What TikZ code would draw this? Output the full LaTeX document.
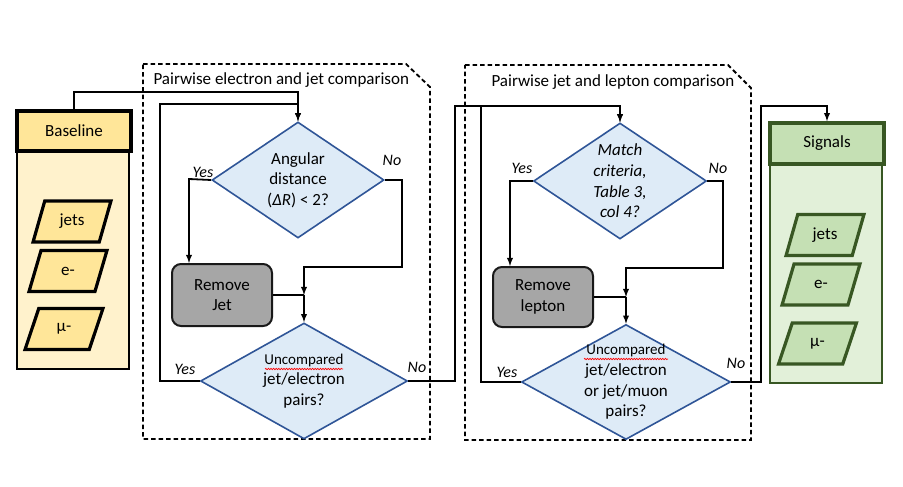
\documentclass[tikz,border=0pt]{standalone}
\usepackage{fontspec}
\setmainfont{Carlito}
\usepackage{tikz}
\usetikzlibrary{arrows,shapes.geometric,decorations.pathmorphing}

\definecolor{baseline_dark}{HTML}{FFE699}
\definecolor{baseline_light}{HTML}{FFF2CC}
\definecolor{signal_dark}{HTML}{C5E0B4}
\definecolor{signal_light}{HTML}{E2F0D9}
\definecolor{signal_line}{HTML}{385723}
\definecolor{decision_fill}{HTML}{DEEBF7}
\definecolor{decision_line}{HTML}{2F5597}
\definecolor{remove_fill}{HTML}{A6A6A6}

\begin{document}
\begin{tikzpicture}[x=1pt,y=-1pt,
		font=\fontsize{17}{20.7}\selectfont,
		flowarrow/.style={line width=1.8pt,-latex},
		flowline/.style={line width=1.8pt},
		decision/.style={diamond,draw=decision_line,line width=1.6pt,fill=decision_fill,inner sep=-12pt,align=center},
		removebox/.style={rectangle,rounded corners=9pt,draw=black!90,line width=2pt,fill=remove_fill,text=black,align=center,minimum width=100pt},
		datapar/.style={trapezium,trapezium left angle=70,trapezium right angle=110,trapezium stretches=true,line width=3.2pt,minimum height=41pt,minimum width=78pt,inner sep=0pt},
		headbox/.style={rectangle,line width=3.6pt,minimum width=114pt,minimum height=40pt},
		bodybox/.style={rectangle,line width=2.4pt,minimum width=112pt,minimum height=218pt},
		answer/.style={font=\fontsize{16}{18}\selectfont\itshape},
		groupbox/.style={line width=1.8pt,dash pattern=on 4.5pt off 3pt},
		spellwave/.style={red,line width=0.7pt,decorate,decoration={snake,amplitude=0.7pt,segment length=2.6pt}}]
		\useasboundingbox (0,0) rectangle (903,487);
%		\draw[help lines,step=50] (0,0) grid (903,487);
		\draw[groupbox] (143,64) -- (406,64) -- (430,87) -- (430,439) -- (143,439) -- cycle;
		\draw[groupbox] (465,65) -- (728,65) -- (751,88) -- (751,440) -- (465,440) -- cycle;
		\path (150,80) node(title_ej) [anchor=west] {Pairwise electron and jet comparison};
		\path (488,82) node(title_jl) [anchor=west] {Pairwise jet and lepton comparison};

		\path (73,260) node(base_body) [bodybox,draw,fill=baseline_light] {};
		\path (74,131) node(base) [headbox,draw,fill=baseline_dark] {Baseline};
		\path (72,221.5) node(base_jets) [datapar,draw,fill=baseline_dark] {jets};
		\path (68,271) node(base_e) [datapar,draw,fill=baseline_dark] {e-};
		\path (64,329) node(base_mu) [datapar,draw,fill=baseline_dark] {µ-};

		\path (826,273.5) node(sig_body) [bodybox,draw=signal_line,fill=signal_light,minimum height=219pt] {};
		\path (827,143.5) node(sig) [headbox,draw=signal_line,fill=signal_dark,minimum height=41pt] {Signals};
		\path (825,235) node(sig_jets) [datapar,draw=signal_line,fill=signal_dark] {jets};
		\path (821,284.5) node(sig_e) [datapar,draw=signal_line,fill=signal_dark] {e-};
		\path (817.5,343.5) node(sig_mu) [datapar,draw=signal_line,fill=signal_dark] {µ-};

		\path (298,180) node(d1) [decision,minimum width=172pt,minimum height=116pt] {Angular\\distance\\(\textit{ΔR}) < 2?};
		\path (304,381) node(d2) [decision,minimum width=207pt,minimum height=116pt] {{\fontsize{15}{20.7}\selectfont Uncompared}\\jet/electron\\pairs?};
		\path (620,181) node(d3) [decision,minimum width=173pt,minimum height=116pt] {\itshape Match\\\itshape criteria,\\\itshape Table 3,\\\itshape col 4?};
		\path (626,382) node(d4) [decision,minimum width=209pt,minimum height=115pt] {{\fontsize{15}{20.7}\selectfont Uncompared}\\jet/electron\\or jet/muon\\pairs?};
		\draw[spellwave] (d2.center) +(-39,-12) -- +(39,-12);
		\draw[spellwave] (d4.center) +(-42,-23) -- +(42,-23);

		\path (222,295) node(rj) [removebox,minimum height=62pt] {Remove\\Jet};
		\path (543,297) node(rl) [removebox,minimum height=60pt] {Remove\\lepton};

		\path (74,92) coordinate (base_up);
		\path (160,104) coordinate (loop1);
		\path (189,179) coordinate (yes1);
		\path (402,267) coordinate (no1);
		\path (455,106) coordinate (link_out);
		\path (481,106) coordinate (loop2);
		\path (510,181) coordinate (yes2);
		\path (723,268) coordinate (no2);
		\path (761,106) coordinate (sig_in);
		\path (d2.north |- rj.east) coordinate (merge1);
		\path (d4.north |- rl.east) coordinate (merge2);

		\draw[flowarrow] (base.north) -- (base_up) -| (d1.north);
		\draw[flowarrow] (d2.west) -| (loop1) -| (d1.north);
		\draw[flowarrow] (d1.west) -- (yes1) -- (yes1 |- rj.north);
		\draw[flowarrow] (d1.east) -| (no1) -| (merge1);
		\draw[flowline] (rj.east) -- (merge1);
		\draw[flowarrow] (merge1) -- (d2.north);
		\draw[flowarrow] (d2.east) -| (link_out) -| (d3.north);
		\draw[flowarrow] (d4.west) -| (loop2) -| (d3.north);
		\draw[flowarrow] (d3.west) -- (yes2) -- (yes2 |- rl.north);
		\draw[flowarrow] (d3.east) -| (no2) -| (merge2);
		\draw[flowline] (rl.east) -- (merge2);
		\draw[flowarrow] (merge2) -- (d4.north);
		\draw[flowarrow] (d4.east) -| (sig_in) -| (sig.north);

		\path (203,172) node(yes_d1) [answer] {Yes};
		\path (392,160) node(no_d1) [answer] {No};
		\path (185,369) node(yes_d2) [answer] {Yes};
		\path (417,367) node(no_d2) [answer] {No};
		\path (522,168) node(yes_d3) [answer] {Yes};
		\path (718,168) node(no_d3) [answer] {No};
		\path (507,372) node(yes_d4) [answer] {Yes};
		\path (736,363) node(no_d4) [answer] {No};
	\end{tikzpicture}
\end{document}
